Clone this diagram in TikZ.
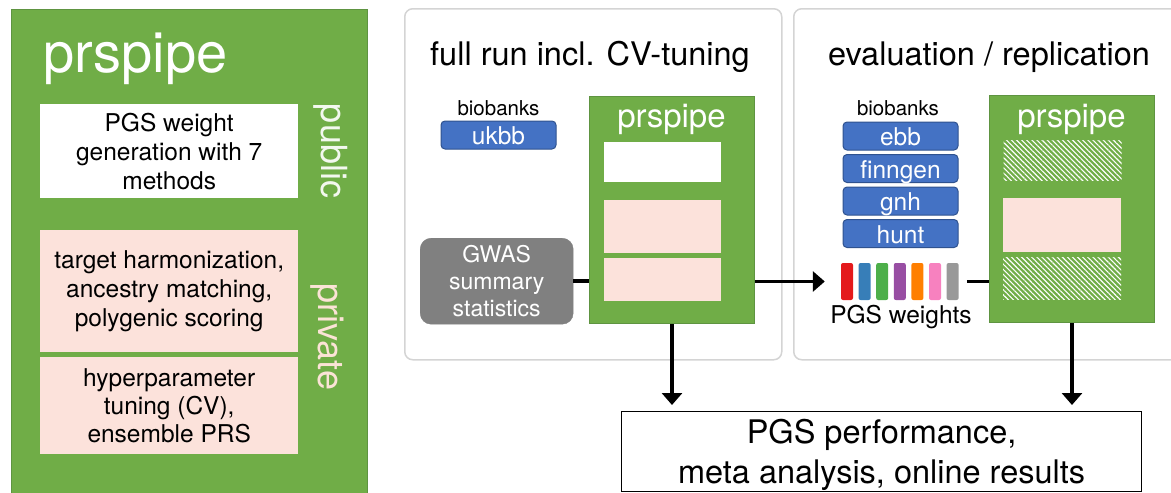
\documentclass[tikz,border=0pt]{standalone}
\usepackage{fontspec}
\setmainfont{TeX Gyre Heros}
\usetikzlibrary{positioning, arrows.meta, patterns.meta}

\definecolor{prsgreen}{HTML}{70AD47}
\definecolor{prsgreenline}{HTML}{5E9441}
\definecolor{prspink}{HTML}{FCE2DB}
\definecolor{bankblue}{HTML}{4472C4}
\definecolor{bankline}{HTML}{2F528F}
\definecolor{gwasgray}{HTML}{808080}
\definecolor{panelline}{HTML}{D4D4D4}
\definecolor{privatetext}{HTML}{FBE3D6}
\definecolor{publictext}{HTML}{F3F8EF}
\definecolor{wred}{HTML}{E41A1C}
\definecolor{wblue}{HTML}{377EB8}
\definecolor{wgreen}{HTML}{4DAF4A}
\definecolor{wpurple}{HTML}{984EA3}
\definecolor{worange}{HTML}{FF7F00}
\definecolor{wpink}{HTML}{F781BF}
\definecolor{wgray}{HTML}{999999}

\tikzset{
  pipebox/.style={draw=prsgreenline, fill=prsgreen, line width=1pt, inner sep=0pt, anchor=north west},
  slot/.style={fill=#1, inner sep=0pt, anchor=north west},
  hatched/.style={inner sep=0pt, anchor=north west, pattern={Lines[angle=-45, distance=3.6pt, line width=1.1pt]}, pattern color=white},
  panel/.style={draw=panelline, line width=1.5pt, rounded corners=8pt, inner sep=0pt, anchor=north west},
  bank/.style={draw=bankline, fill=bankblue, line width=1pt, rounded corners=4pt, text=white,
    minimum width=115pt, minimum height=28pt, inner sep=0pt, text height=21pt, text depth=2pt,
    font=\fontsize{24.5}{28}\selectfont},
  weight/.style={rounded corners=2pt, minimum width=12pt, minimum height=37pt, inner sep=0pt},
  link/.style={line width=3.5pt},
  flow/.style={line width=3.5pt, -{Triangle[length=12pt, width=20pt]}},
}

\begin{document}
\begin{tikzpicture}[x=1pt, y=-1pt]
  \clip (0,0) rectangle (1171,493);
  \useasboundingbox (0,0) rectangle (1171,493);

  % pipeline overview
  \node[pipebox, minimum width=356pt, minimum height=495pt] (main) at (11,9) {};
  \node[text=white, font=\fontsize{56}{60}\selectfont, anchor=base west] (maintitle) at (40,72) {prspipe};
  \node[slot=white, minimum width=258pt, minimum height=94pt, align=center,
    font=\fontsize{24.5}{29}\selectfont] (weightgen) at (40,104) {PGS weight\\generation with 7\\methods};
  \node[slot=prspink, minimum width=258pt, minimum height=122pt, align=center,
    font=\fontsize{24.5}{29}\selectfont] (scoring) at (40,230) {target harmonization,\\ancestry matching,\\polygenic scoring};
  \node[slot=prspink, minimum width=258pt, minimum height=97pt, align=center,
    font=\fontsize{24.5}{28}\selectfont] (tuning) at (40,357) {hyperparameter\\tuning (CV),\\ensemble PRS};
  \node[rotate=-90, text=publictext, font=\fontsize{36}{40}\selectfont] (public) at (331,151) {public};
  \node[rotate=-90, text=privatetext, font=\fontsize{36}{40}\selectfont] (private) at (327,337) {private};

  % full run
  \node[panel, minimum width=377pt, minimum height=351pt] (fullrun) at (404,8) {};
  \node[font=\fontsize{32.5}{36}\selectfont, anchor=base] (fullruntitle) at (590,65) {full run incl. CV-tuning};
  \node[font=\fontsize{20.5}{24}\selectfont, anchor=base] (banksa) at (498.5,115) {biobanks};
  \node[bank] (ukbb) at (498.5,135) {ukbb};
  \node[draw=gwasgray, fill=gwasgray, rounded corners=11pt, anchor=north west, minimum width=153pt,
    minimum height=86pt, inner sep=0pt, text=white, align=center,
    font=\fontsize{23}{27}\selectfont] (gwas) at (420,238) {GWAS\\summary\\statistics};
  \node[pipebox, minimum width=165pt, minimum height=227pt] (pipea) at (589,96) {};
  \node[text=white, font=\fontsize{33}{36}\selectfont, anchor=base] (pipeatitle) at (671.5,127) {prspipe};
  \node[slot=white, minimum width=117pt, minimum height=40pt] (pipeaone) at (604,142) {};
  \node[slot=prspink, minimum width=117pt, minimum height=53pt] (pipeatwo) at (604,200) {};
  \node[slot=prspink, minimum width=117pt, minimum height=43pt] (pipeathree) at (604,258) {};

  % evaluation
  \node[panel, minimum width=400pt, minimum height=351pt] (evalrun) at (793,8) {};
  \node[font=\fontsize{32.5}{36}\selectfont, anchor=base] (evaltitle) at (989,65) {evaluation / replication};
  \node[font=\fontsize{20.5}{24}\selectfont, anchor=base] (banksb) at (898,115) {biobanks};
  \node[bank] (ebb) at (900.5,136) {ebb};
  \node[bank, below=3.5pt of ebb] (finngen) {finngen};
  \node[bank, below=3.5pt of finngen] (gnh) {gnh};
  \node[bank, below=3.5pt of gnh] (hunt) {hunt};
  \foreach \c [count=\i] in {wred, wblue, wgreen, wpurple, worange, wpink, wgray}
    \node[weight, fill=\c] (w\i) at ({847+(\i-1)*17.6}, 281.5) {};
  \node[font=\fontsize{24.5}{28}\selectfont, anchor=base] (weightlabel) at (901,323) {PGS weights};
  \node[pipebox, minimum width=165pt, minimum height=227pt] (pipeb) at (989,95) {};
  \node[text=white, font=\fontsize{33}{36}\selectfont, anchor=base] (pipebtitle) at (1071.5,127) {prspipe};
  \node[hatched, minimum width=118pt, minimum height=40pt] (pipebone) at (1003,140) {};
  \node[slot=prspink, minimum width=118pt, minimum height=54pt] (pipebtwo) at (1003,198) {};
  \node[hatched, minimum width=118pt, minimum height=42pt] (pipebthree) at (1003,257) {};

  % results
  \node[draw, line width=1.2pt, anchor=north west, minimum width=520pt, minimum height=80pt,
    inner sep=0pt] (results) at (621,411) {};
  \node[align=center, inner sep=0pt, font=\fontsize{32.5}{40}\selectfont] (resultstext)
    at ([yshift=-3pt]results.center) {PGS performance,\\meta analysis, online results};

  \draw[link] (gwas.east) -- (gwas.east -| pipea.west);
  \draw[flow] (pipea.east |- w1) -- ([xshift=-16pt]w1.west);
  \draw[link] ([xshift=8pt]w7.east) -- (w7 -| pipeb.west);
  \draw[flow, shorten >=6pt] (pipea.south) -- (pipea.south |- results.north);
  \draw[flow, shorten >=6pt] (pipeb.south) -- (pipeb.south |- results.north);
\end{tikzpicture}
\end{document}
